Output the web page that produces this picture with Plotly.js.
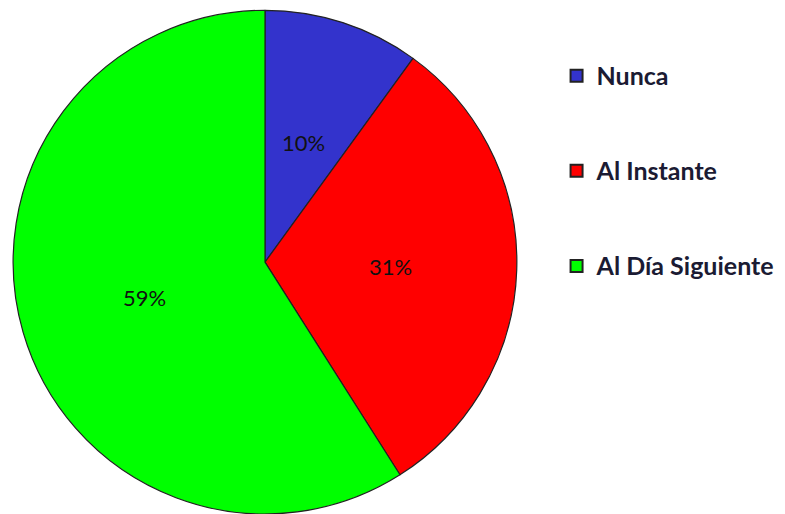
<!DOCTYPE html>
<html>
<head>
<meta charset="utf-8">
<script src="https://cdn.plot.ly/plotly-3.0.1.min.js"></script>
<style>html,body{margin:0;padding:0;background:#fff}#chart{width:785px;height:514px}</style>
</head>
<body>
<div id="chart"></div>
<script>
const categories = ["Nunca", "Al Instante", "Al Día Siguiente"];
const values = [10, 31, 59];
const colors = ["#3333CC", "#FF0000", "#00FF00"];

const W = 785, H = 514;
const domain = {x: [12/W, 518/W], y: [0, 0.98]};

// legend labels padded with blank lines for the wide spacing between entries
const legendLabels = categories.map(c =>
  "<span style='font-size:25px'><b>" + c + "</b></span><br> <br> ");

const trace = {
  type: "pie",
  labels: legendLabels,
  values: values,
  sort: false,
  direction: "clockwise",
  rotation: 0,
  marker: {colors: colors, line: {color: "#222222", width: 1.2}},
  textinfo: "none",
  textposition: "none",
  domain: domain,
  hoverinfo: "percent"
};

// percentage labels placed at the middle angle of each slice, half-way out
const total = values.reduce((a, b) => a + b, 0);
const cxPx = (domain.x[0] + domain.x[1]) / 2 * W;
const cyPx = (1 - (domain.y[0] + domain.y[1]) / 2) * H;
const R = Math.min((domain.x[1] - domain.x[0]) * W, (domain.y[1] - domain.y[0]) * H) / 2;
let cum = 0;
const annotations = values.map(v => {
  const mid = (cum + v / 2) / total * 2 * Math.PI;
  cum += v;
  const px = cxPx + 0.5 * R * Math.sin(mid);
  const py = cyPx - 0.5 * R * Math.cos(mid);
  return {
    x: px / W, y: 1 - py / H, xref: "paper", yref: "paper",
    xanchor: "center", yanchor: "middle",
    text: Math.round(v / total * 100) + "%", showarrow: false,
    font: {family: "Lato, 'Open Sans', sans-serif", size: 22, color: "#111111"}
  };
});

const layout = {
  width: W, height: H,
  margin: {l: 0, r: 0, t: 0, b: 0},
  paper_bgcolor: "#ffffff",
  showlegend: true,
  annotations: annotations,
  legend: {
    x: 0.709, y: 0.895, xanchor: "left", yanchor: "top",
    valign: "top",
    font: {family: "Lato, 'Open Sans', sans-serif", size: 23.6, color: "#1b1b33"},
    itemsizing: "constant"
  }
};

Plotly.newPlot("chart", [trace], layout, {displayModeBar: false, staticPlot: true});
</script>
</body>
</html>
